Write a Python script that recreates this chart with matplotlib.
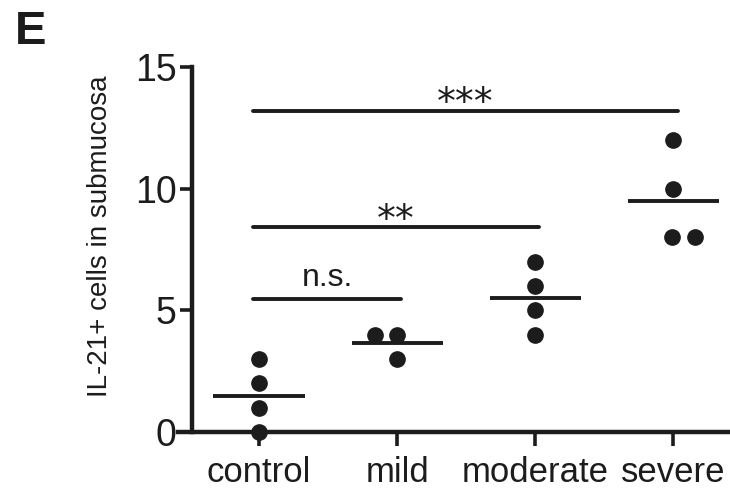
import numpy as np
import matplotlib
matplotlib.use("Agg")
import matplotlib.pyplot as plt

plt.rcParams['font.family'] = ['Liberation Sans', 'DejaVu Sans']

# data
groups = ["control", "mild", "moderate", "severe"]
control_vals = [3, 2, 1, 0]
mild_vals = [4, 4, 3]
moderate_vals = [7, 6, 5, 4]
severe_vals = [12, 10, 8, 8]
all_vals = [control_vals, mild_vals, moderate_vals, severe_vals]
# horizontal scatter of the dots (beeswarm-like offsets)
offsets = [[0, 0, 0, 0], [-0.16, 0.0, 0.0], [0, 0, 0, 0], [0, 0, -0.01, 0.16]]

# significance comparisons: (group a, group b, bar height, label)
sig_pairs = [(0, 1, 5.47, "n.s."), (0, 2, 8.43, "**"), (0, 3, 13.2, "***")]

ink = "#1c1c1c"
fig = plt.figure(figsize=(7.3, 4.91), dpi=100)
ax = fig.add_axes([178 / 730, 59 / 491, 552 / 730, 365 / 491])

for i, vals in enumerate(all_vals):
    xs = np.array(offsets[i]) + i
    ax.plot(xs, vals, 'o', color=ink, markersize=11, clip_on=False, zorder=3)
    m = np.mean(vals)
    ax.plot([i - 0.33, i + 0.33], [m, m], color=ink, lw=2.8, solid_capstyle='butt')

for a, b, h, lab in sig_pairs:
    x0, x1 = a - 0.045, b + 0.03
    ax.plot([x0, x1], [h, h], color=ink, lw=2.8, solid_capstyle='round')
    if lab.startswith("*"):
        # stars sit high in the glyph box, so anchor on the baseline
        ax.text((x0 + x1) / 2, h - 0.15, lab, ha='center', va='baseline', fontsize=27,
                family='DejaVu Sans', color=ink)
    else:
        ax.text((x0 + x1) / 2, h + 0.25, lab, ha='center', va='bottom', fontsize=23, color=ink)

ax.set_xlim(-0.587, 3.41)
ax.set_ylim(0, 15)
ax.set_xticks(range(len(groups)))
ax.set_xticklabels(groups)
ax.set_yticks([0, 5, 10, 15])

for s in ['top', 'right']:
    ax.spines[s].set_visible(False)
ax.spines['left'].set_position(('data', -0.486))
ax.spines['left'].set_bounds(0, 15)
for s in ['left', 'bottom']:
    ax.spines[s].set_linewidth(3.2)
    ax.spines[s].set_color(ink)
    ax.spines[s].set_capstyle('projecting')

ax.tick_params(axis='y', length=9, width=2.6, color=ink, labelsize=27, labelcolor=ink, pad=2)
ax.tick_params(axis='x', length=10, width=2.6, color=ink, labelsize=25, labelcolor=ink, pad=7)

fig.text(100 / 730, 1 - 236 / 491, "IL-21+ cells in submucosa", rotation=90,
         ha='center', va='center', fontsize=20, color=ink)
fig.text(15 / 730, 1 - 32 / 491, "E", fontsize=34, fontweight='bold', ha='left', va='center', color=ink)

fig.savefig("out.png", dpi=100)
